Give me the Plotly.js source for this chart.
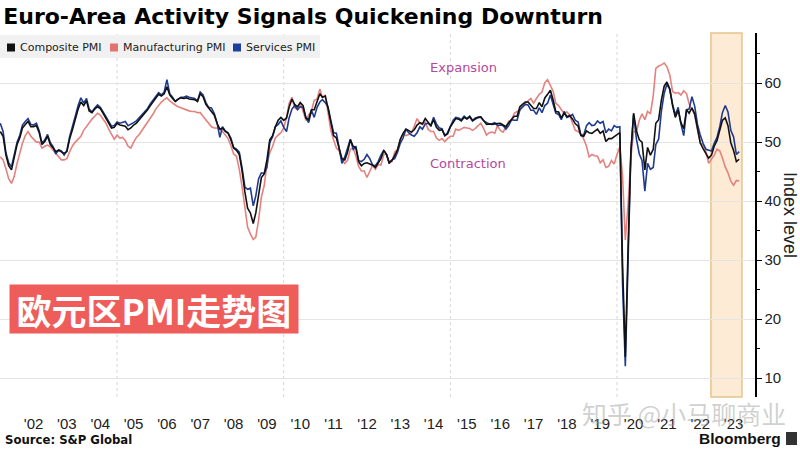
<!DOCTYPE html>
<html>
<head>
<meta charset="utf-8">
<script src="https://cdn.plot.ly/plotly-3.0.1.min.js"></script>
<style>
  html, body { margin: 0; padding: 0; background: #ffffff; }
  #chart { width: 800px; height: 450px; }
</style>
</head>
<body>
<div id="chart"></div>
<script>
// Monthly series, starting July 2001, ending September 2023
var startYear = 2001;
var startMonth = 7;

var composite = [
  51.8, 51.0, 47.8, 46.0, 45.3, 47.5,
  49.6, 50.8, 52.4, 53.0, 53.5, 52.6, 52.6, 52.8, 51.6, 49.6, 50.1, 51.0,
  49.6, 49.0, 48.4, 48.6, 48.3, 48.1, 48.4, 50.6, 52.2, 54.0, 55.6, 56.8,
  56.2, 57.0, 55.3, 55.0, 55.6, 56.0, 55.7, 54.9, 54.1, 53.3, 52.4, 52.5,
  53.2, 52.9, 52.8, 52.7, 52.1, 52.4, 52.9, 53.2, 53.8, 54.3, 54.9, 55.5,
  56.2, 56.8, 57.5, 58.1, 57.8, 58.2, 59.4, 58.0, 57.4, 56.9, 57.3, 57.5,
  57.4, 57.5, 57.3, 57.3, 57.2, 56.9, 58.2, 57.7, 56.4, 55.8, 55.1, 54.6,
  53.2, 52.2, 52.4, 51.8, 51.5, 50.4, 49.0, 48.6, 47.9, 45.2, 41.6, 38.8,
  38.0, 36.2, 38.0, 41.0, 44.0, 44.6, 47.0, 50.4, 51.1, 52.6, 53.7, 54.2,
  53.7, 54.1, 55.9, 57.3, 56.4, 56.0, 56.7, 56.2, 54.1, 53.8, 55.5, 55.5,
  57.0, 58.2, 57.6, 57.8, 55.8, 53.3, 51.1, 50.7, 49.1, 47.2, 47.0, 48.3,
  50.4, 49.3, 49.1, 46.7, 46.0, 46.4, 46.5, 46.3, 46.1, 45.7, 46.5, 47.2,
  48.6, 47.9, 46.5, 46.9, 47.7, 48.7, 50.5, 51.5, 52.2, 51.9, 51.7, 52.1,
  52.9, 53.3, 53.1, 54.0, 53.5, 52.8, 53.8, 52.5, 52.0, 52.1, 51.1, 51.4,
  52.6, 53.3, 54.0, 53.9, 53.6, 54.2, 53.9, 54.3, 53.6, 53.9, 54.2, 54.3,
  53.6, 53.0, 53.1, 53.0, 53.1, 53.1, 53.2, 52.9, 52.6, 53.3, 53.9, 54.4,
  54.4, 56.0, 56.4, 56.8, 56.8, 56.3, 55.7, 55.7, 56.7, 56.0, 57.5, 58.1,
  58.8, 57.1, 55.2, 55.1, 54.1, 54.9, 54.3, 54.5, 53.9, 53.1, 52.7, 51.1,
  51.0, 51.9, 51.6, 51.5, 51.8, 52.2, 51.5, 51.9, 50.1, 50.6, 50.6, 50.9,
  51.3, 51.6, 29.7, 13.6, 31.9, 48.5, 54.9, 51.9, 50.4, 50.0, 45.3, 49.1,
  47.8, 48.8, 53.2, 53.8, 57.1, 59.5, 60.2, 59.0, 56.2, 54.2, 55.4, 53.3,
  52.3, 55.5, 54.9, 55.8, 54.8, 52.0, 49.9, 48.9, 48.1, 47.3, 47.8, 49.3,
  50.3, 52.0, 53.7, 54.1, 52.8, 49.9, 48.6, 46.7, 47.1
];

var manufacturing = [
  47.5, 47.0, 45.5, 43.8, 43.0, 44.2,
  46.4, 48.2, 49.8, 51.1, 51.8, 51.0, 50.5, 50.0, 50.0, 49.0, 49.3, 49.5,
  49.2, 48.6, 48.0, 47.5, 47.0, 47.0, 47.2, 48.4, 49.4, 50.0, 50.6, 51.0,
  52.0, 52.7, 53.3, 53.9, 54.4, 54.9, 54.6, 54.0, 53.2, 52.2, 51.2, 50.5,
  51.2, 50.7, 50.8, 50.3, 49.3, 49.0, 50.0, 50.8, 51.3, 52.0, 52.7, 53.2,
  54.0, 54.8, 55.6, 56.3, 56.8, 57.2, 57.5, 57.0, 56.6, 56.3, 56.0, 55.8,
  55.6, 55.4, 55.3, 55.2, 55.2, 55.0, 55.0, 54.4, 53.8, 53.2, 52.6, 52.4,
  52.4, 52.2, 51.8, 51.2, 50.6, 49.4, 48.0, 47.6, 45.4, 42.5, 38.8, 35.6,
  34.4, 33.5, 33.9, 36.8, 40.7, 42.6, 46.3, 48.2, 49.3, 50.7, 51.2, 51.6,
  52.4, 54.2, 56.6, 57.6, 55.8, 55.6, 56.7, 55.1, 53.7, 54.6, 55.3, 57.1,
  57.3, 59.0, 57.5, 58.0, 54.6, 52.0, 50.4, 49.0, 48.5, 47.1, 46.4, 46.9,
  48.8, 49.0, 47.7, 45.9, 45.1, 45.1, 44.0, 45.1, 46.1, 45.4, 46.2, 46.1,
  47.9, 47.9, 46.8, 46.7, 48.3, 48.8, 50.3, 51.4, 51.1, 51.3, 51.6, 52.7,
  54.0, 53.2, 53.0, 53.4, 52.2, 51.8, 51.8, 50.7, 50.3, 50.6, 50.1, 50.6,
  51.0, 51.0, 52.2, 52.0, 52.2, 52.5, 52.4, 52.3, 52.0, 52.3, 52.8, 53.2,
  52.3, 51.2, 51.6, 51.7, 51.5, 52.8, 52.0, 51.7, 52.6, 53.5, 53.7, 54.9,
  55.2, 55.4, 56.2, 56.7, 57.0, 57.4, 56.6, 57.4, 58.1, 58.5, 60.1, 60.6,
  59.6, 58.6, 56.6, 56.2, 55.5, 54.9, 55.1, 54.6, 53.2, 52.0, 51.8, 51.4,
  50.5, 49.3, 47.5, 47.9, 47.7, 47.6, 46.5, 47.0, 45.7, 45.9, 46.9, 46.3,
  47.9, 49.2, 44.5, 33.4, 39.4, 47.4, 51.8, 51.7, 53.7, 54.8, 53.8, 55.2,
  54.8, 57.9, 62.5, 62.9, 63.1, 63.4, 62.8, 61.4, 58.6, 58.3, 58.4, 58.0,
  58.7, 58.2, 56.5, 55.5, 54.6, 52.1, 49.8, 49.6, 48.4, 46.4, 47.1, 47.8,
  48.8, 48.5, 47.3, 45.8, 44.8, 43.4, 42.7, 43.5, 43.4
];

var services = [
  53.2, 51.8, 48.2, 46.5, 45.8, 48.0,
  50.0, 51.2, 52.9, 53.5, 54.0, 53.0, 52.9, 53.2, 51.9, 49.8, 50.4, 51.3,
  49.9, 49.2, 48.0, 48.7, 48.5, 47.8, 48.6, 51.0, 52.6, 54.4, 56.2, 57.5,
  56.6, 57.4, 55.6, 55.1, 55.8, 56.3, 55.9, 55.0, 54.3, 53.5, 52.7, 52.8,
  53.4, 53.2, 53.4, 53.5, 52.8, 53.0, 53.3, 53.6, 54.1, 54.6, 55.1, 55.7,
  56.5, 57.1, 57.8, 58.4, 58.0, 58.5, 60.6, 58.2, 57.6, 56.9, 57.3, 57.6,
  57.6, 57.8, 57.6, 57.5, 57.4, 57.0, 58.5, 58.0, 56.7, 55.9, 55.8, 54.9,
  53.3, 50.8, 52.6, 51.9, 51.6, 50.7, 49.1, 48.8, 48.3, 45.7, 42.4, 42.0,
  42.2, 39.2, 40.9, 43.8, 44.8, 44.7, 45.7, 49.9, 50.9, 52.6, 53.0, 53.6,
  52.5, 51.8, 54.1, 55.6, 56.2, 55.5, 56.0, 55.9, 54.1, 53.3, 55.4, 54.2,
  55.9, 56.8, 57.2, 56.7, 56.0, 53.7, 51.6, 51.5, 48.8, 46.4, 47.5, 48.8,
  50.5, 48.8, 49.2, 46.9, 46.7, 47.1, 47.9, 47.2, 46.1, 46.0, 46.7, 47.8,
  48.6, 47.9, 46.4, 47.0, 47.2, 48.3, 49.8, 50.7, 52.2, 51.6, 51.2, 51.0,
  51.6, 52.6, 52.2, 53.1, 53.2, 52.8, 54.2, 53.1, 52.4, 52.3, 51.1, 51.6,
  52.7, 53.7, 54.2, 54.1, 53.8, 54.4, 54.0, 54.4, 53.7, 54.1, 54.2, 54.2,
  53.6, 53.3, 53.1, 53.1, 53.3, 52.8, 52.9, 52.8, 52.2, 52.8, 53.8, 53.7,
  53.7, 55.5, 56.0, 56.4, 56.3, 55.4, 55.4, 54.7, 55.8, 55.0, 56.2, 56.6,
  58.0, 56.2, 54.9, 54.7, 53.8, 55.2, 54.2, 54.4, 54.7, 53.7, 53.4, 51.2,
  51.2, 52.8, 53.3, 52.8, 52.9, 53.6, 53.2, 53.5, 51.6, 52.2, 51.9, 52.8,
  52.5, 52.6, 26.4, 12.0, 30.5, 48.3, 54.7, 50.5, 48.0, 46.9, 41.7, 46.4,
  45.4, 45.7, 49.6, 50.5, 55.2, 58.3, 59.8, 59.0, 56.4, 54.6, 55.9, 53.1,
  51.1, 55.5, 55.6, 57.7, 56.1, 53.0, 51.2, 49.8, 48.8, 48.6, 48.5, 49.8,
  50.8, 52.7, 55.0, 56.2, 55.1, 52.0, 50.9, 47.9, 48.4
];

var tickDates = ['2002-07-01','2003-07-01','2004-07-01','2005-07-01','2006-07-01','2007-07-01',
  '2008-07-01','2009-07-01','2010-07-01','2011-07-01','2012-07-01','2013-07-01','2014-07-01',
  '2015-07-01','2016-07-01','2017-07-01','2018-07-01','2019-07-01','2020-07-01','2021-07-01',
  '2022-07-01','2023-07-01'];
var tickLabels = ["'02","'03","'04","'05","'06","'07","'08","'09","'10","'11","'12","'13","'14",
  "'15","'16","'17","'18","'19","'20","'21","'22","'23"];
var yTicks = [10, 20, 30, 40, 50, 60];
var gridYears = ['2005-01-01', '2010-01-01', '2015-01-01', '2020-01-01'];
var shadeStart = '2022-10-26';
var shadeEnd = '2023-10-01';

if (composite.length !== manufacturing.length || composite.length !== services.length) {
  throw new Error('length mismatch ' + composite.length + ' ' + manufacturing.length + ' ' + services.length);
}

var dates = [];
for (var i = 0; i < composite.length; i++) {
  var mi = startMonth - 1 + i;
  var yy = startYear + Math.floor(mi / 12);
  var mm = (mi % 12) + 1;
  dates.push(yy + '-' + (mm < 10 ? '0' + mm : mm) + '-01');
}

var colComp = '#111111';
var colMan = '#e4827f';
var colSer = '#1f3b8e';

var traces = [
  { x: dates, y: manufacturing, type: 'scatter', mode: 'lines', name: 'Manufacturing PMI',
    line: { color: colMan, width: 1.6 }, showlegend: false },
  { x: dates, y: services, type: 'scatter', mode: 'lines', name: 'Services PMI',
    line: { color: colSer, width: 1.6 }, showlegend: false },
  { x: dates, y: composite, type: 'scatter', mode: 'lines', name: 'Composite PMI',
    line: { color: colComp, width: 1.6 }, showlegend: false }
];

var W = 755, TOP = 33, BOT = 397, H = BOT - TOP;
function px(x) { return x / W; }
function py(y) { return (BOT - y) / H; }

var shapes = [
  { type: 'rect', xref: 'x', yref: 'paper', x0: shadeStart, x1: shadeEnd, y0: 0, y1: 1,
    fillcolor: '#fdebd6', line: { color: '#e6c48a', width: 1.5 }, layer: 'below' }
];
gridYears.forEach(function (d) {
  shapes.push({ type: 'line', xref: 'x', yref: 'paper', x0: d, x1: d, y0: 0, y1: 1,
    line: { color: '#d6d6d6', width: 1, dash: 'dot' }, layer: 'below' });
});
// legend background and swatches
shapes.push({ type: 'rect', xref: 'paper', yref: 'paper', x0: 0, x1: px(320), y0: py(58), y1: py(35),
  fillcolor: '#f1f1f1', line: { width: 0 } });
var legendItems = [
  { label: 'Composite PMI', color: colComp, sx: 7, tx: 18 },
  { label: 'Manufacturing PMI', color: '#e07470', sx: 110, tx: 121 },
  { label: 'Services PMI', color: '#1f3f9c', sx: 233, tx: 244 }
];
legendItems.forEach(function (it) {
  shapes.push({ type: 'rect', xref: 'paper', yref: 'paper', x0: px(it.sx), x1: px(it.sx + 8),
    y0: py(51.5), y1: py(43.5), fillcolor: it.color, line: { width: 0 } });
});
// Bloomberg icon
shapes.push({ type: 'rect', xref: 'paper', yref: 'paper', x0: px(786), x1: px(797), y0: py(445), y1: py(432),
  fillcolor: '#333333', line: { width: 0 } });

var annotations = [];
legendItems.forEach(function (it) {
  annotations.push({ xref: 'paper', yref: 'paper', x: px(it.tx), y: py(47.5), xanchor: 'left', yanchor: 'middle',
    text: it.label, showarrow: false, font: { family: 'DejaVu Sans', size: 11, color: '#222222' } });
});
annotations.push(
  { xref: 'x', yref: 'y', x: '2014-05-01', y: 62.7, xanchor: 'left', yanchor: 'middle', text: 'Expansion',
    showarrow: false, font: { family: 'DejaVu Sans', size: 13, color: '#b3489c' } },
  { xref: 'x', yref: 'y', x: '2014-05-01', y: 46.4, xanchor: 'left', yanchor: 'middle', text: 'Contraction',
    showarrow: false, font: { family: 'DejaVu Sans', size: 13, color: '#b3489c' } },
  { xref: 'paper', yref: 'paper', x: px(790), y: py(215), xanchor: 'center', yanchor: 'middle', text: 'Index level',
    textangle: 90, showarrow: false, font: { family: 'Liberation Sans', size: 18, color: '#222222' } },
  { xref: 'paper', yref: 'paper', x: px(3), y: py(440), xanchor: 'left', yanchor: 'middle', text: '<b>Source: S&P Global</b>',
    showarrow: false, font: { family: 'DejaVu Sans', size: 11.7, color: '#111111' } },
  { xref: 'paper', yref: 'paper', x: px(783), y: py(438), xanchor: 'right', yanchor: 'middle', text: '<b>Bloomberg</b>',
    showarrow: false, font: { family: 'Liberation Sans', size: 15.5, color: '#111111' } },
  { xref: 'paper', yref: 'paper', x: px(154), y: py(309), xanchor: 'center', yanchor: 'middle', text: '<b>欧元区PMI走势图</b>',
    showarrow: false, bgcolor: '#ef5d5b', width: 288, height: 48, borderpad: 0,
    font: { family: 'Noto Sans CJK SC', size: 35, color: '#ffffff' } },
  { xref: 'paper', yref: 'paper', x: px(684), y: py(413), xanchor: 'center', yanchor: 'middle', text: '知乎 @小马聊商业',
    showarrow: false, font: { family: 'Noto Sans CJK SC', size: 25, color: 'rgba(150,150,150,0.45)' } }
);

var layout = {
  width: 800, height: 450,
  margin: { l: 0, r: 800 - W, t: TOP, b: 450 - BOT, pad: 0 },
  paper_bgcolor: '#ffffff', plot_bgcolor: '#ffffff',
  showlegend: false,
  title: { text: '<b>Euro-Area Activity Signals Quickening Downturn</b>', xref: 'container', yref: 'container',
    x: 0.004, xanchor: 'left', y: 1 - 16 / 450, yanchor: 'middle',
    font: { family: 'DejaVu Sans', size: 22, color: '#000000' } },
  xaxis: {
    type: 'date', range: ['2001-06-28', '2024-02-21'],
    tickvals: tickDates, ticktext: tickLabels,
    showgrid: false, zeroline: false, showline: false,
    ticks: 'outside', ticklen: 13, tickcolor: 'rgba(0,0,0,0)',
    tickfont: { family: 'Liberation Sans', size: 15, color: '#222222' }
  },
  yaxis: {
    side: 'right', range: [6.8, 68.5], tickvals: yTicks,
    showgrid: true, gridcolor: '#e4e4e4', gridwidth: 1, zeroline: false,
    showline: true, linecolor: '#000000', linewidth: 1.5,
    ticks: 'outside', ticklen: 5, tickcolor: '#000000', tickwidth: 1,
    minor: { ticks: 'outside', ticklen: 3, tickcolor: '#000000', dtick: 5, tick0: 5, showgrid: false },
    tickfont: { family: 'Liberation Sans', size: 15, color: '#222222' }
  },
  shapes: shapes,
  annotations: annotations
};

Plotly.newPlot('chart', traces, layout, { displayModeBar: false, staticPlot: true });
</script>
</body>
</html>
